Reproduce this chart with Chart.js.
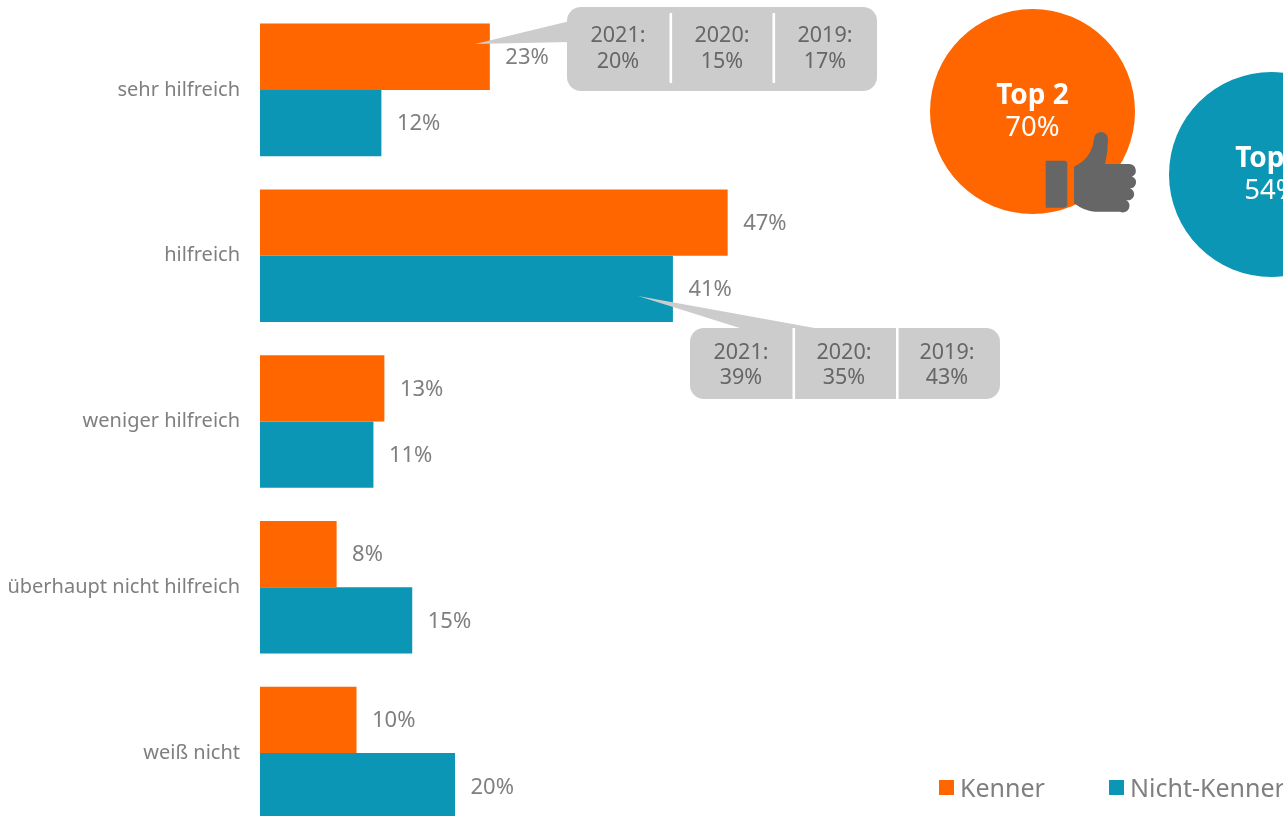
<!DOCTYPE html>
<html lang="de">
<head>
<meta charset="utf-8">
<title>Hilfreich – Kenner / Nicht-Kenner</title>
<style>
  html, body { margin: 0; padding: 0; background: #fff; overflow: hidden; width: 1283px; height: 816px; }
  canvas { display: block; }
</style>
</head>
<body>
<!-- canvas is a bit taller than the window: last bar runs off the bottom like in the original -->
<canvas id="chart" width="1283" height="836"></canvas>
<script src="https://cdn.jsdelivr.net/npm/chart.js@4"></script>
<script>
const categories = ['sehr hilfreich', 'hilfreich', 'weniger hilfreich', 'überhaupt nicht hilfreich', 'weiß nicht'];
const seriesNames = ['Kenner', 'Nicht-Kenner'];
const kenner = [23.1, 47, 12.5, 7.7, 9.7];
const nichtKenner = [12.2, 41.5, 11.4, 15.3, 19.6];
const kennerLabels = ['23%', '47%', '13%', '8%', '10%'];
const nichtKennerLabels = ['12%', '41%', '11%', '15%', '20%'];
const years = ['2021:', '2020:', '2019:'];
const kennerHistory = ['20%', '15%', '17%'];
const nichtKennerHistory = ['39%', '35%', '43%'];
const topTitle = 'Top 2';
const topValues = ['70%', '54%'];

const ORANGE = '#ff6600';
const TEAL = '#0a96b4';
const GREY_TEXT = '#7f7f7f';
const CALLOUT_BG = '#cccccc';
const CALLOUT_TEXT = '#666666';
const FONT = '"Noto Sans", sans-serif';

// ── Value labels next to the bars ───────────────────────────────────────────
const valueLabels = {
  id: 'valueLabels',
  afterDatasetsDraw(chart) {
    const ctx = chart.ctx;
    const texts = [kennerLabels, nichtKennerLabels];
    ctx.save();
    ctx.font = '22px ' + FONT;
    ctx.fillStyle = GREY_TEXT;
    ctx.textAlign = 'left';
    ctx.textBaseline = 'middle';
    texts.forEach((list, d) => {
      chart.getDatasetMeta(d).data.forEach((bar, i) => {
        ctx.fillText(list[i], bar.x + 15.5, bar.y + 1);
      });
    });
    ctx.restore();
  },
};

// ── Callouts with the previous years ────────────────────────────────────────
function drawCallout(ctx, box, tail, values) {
  ctx.fillStyle = CALLOUT_BG;
  ctx.beginPath();
  ctx.moveTo(tail[0][0], tail[0][1]);
  ctx.lineTo(tail[1][0], tail[1][1]);
  ctx.lineTo(tail[2][0], tail[2][1]);
  ctx.closePath();
  ctx.fill();
  ctx.beginPath();
  ctx.roundRect(box.x, box.y, box.w, box.h, 14);
  ctx.fill();

  ctx.fillStyle = '#fff';
  box.dividers.forEach(x => ctx.fillRect(x, box.divTop, 2.6, box.divH));

  ctx.fillStyle = CALLOUT_TEXT;
  ctx.font = '21.5px ' + FONT;
  ctx.textAlign = 'center';
  ctx.textBaseline = 'middle';
  years.forEach((y, i) => {
    ctx.fillText(y, box.centers[i], box.line1);
    ctx.fillText(values[i], box.centers[i], box.line2);
  });
}

// ── Top 2 circles ───────────────────────────────────────────────────────────
function drawCircle(ctx, cx, cy, color, value) {
  ctx.fillStyle = color;
  ctx.beginPath();
  ctx.arc(cx, cy, 102.5, 0, Math.PI * 2);
  ctx.fill();
  ctx.fillStyle = '#fff';
  ctx.textAlign = 'center';
  ctx.textBaseline = 'middle';
  ctx.font = 'bold 28px ' + FONT;
  ctx.fillText(topTitle, cx, cy - 15);
  ctx.font = '27.5px ' + FONT;
  ctx.fillText(value, cx, cy + 17);
}

function drawThumb(ctx) {
  ctx.save();
  ctx.translate(920, 60);
  ctx.scale(1 / 3, 1 / 3);
  ctx.fillStyle = '#666666';
  ctx.beginPath();
  ctx.roundRect(377, 302, 65, 141, [0, 10, 10, 0]);
  ctx.fill();
  const hand = new Path2D(
    'M462 320 Q515 295 522 237 A21 21 0 0 1 564 237 Q564 275 555 312 L628 312 ' +
    'A20 20 0 0 1 636 350 A18 18 0 0 1 630 385 A17 17 0 0 1 618 420 ' +
    'A18 18 0 0 1 600 455 L525 455 Q495 455 462 430 Z'
  );
  ctx.fill(hand);
  ctx.restore();
}

const decorations = {
  id: 'decorations',
  afterDraw(chart) {
    const ctx = chart.ctx;
    ctx.save();
    drawCallout(ctx,
      { x: 567, y: 7, w: 310, h: 84, dividers: [669.5, 772.5], divTop: 13, divH: 70,
        centers: [618, 722, 825], line1: 36, line2: 62 },
      [[475, 44], [570, 21], [570, 42]], kennerHistory);
    drawCallout(ctx,
      { x: 690, y: 328, w: 310, h: 71, dividers: [792.5, 896], divTop: 328, divH: 71,
        centers: [741, 844, 947], line1: 353, line2: 378 },
      [[638, 296], [743, 329], [820, 329]], nichtKennerHistory);
    drawCircle(ctx, 1032.5, 111.5, ORANGE, topValues[0]);
    drawCircle(ctx, 1271.5, 174.5, TEAL, topValues[1]);
    drawThumb(ctx);

    // legend, taken from the datasets
    const datasets = chart.data.datasets;
    const spots = [939, 1109];
    ctx.font = '25px ' + FONT;
    ctx.textAlign = 'left';
    ctx.textBaseline = 'middle';
    datasets.forEach((ds, i) => {
      ctx.fillStyle = ds.backgroundColor;
      ctx.fillRect(spots[i], 780, 15, 15);
      ctx.fillStyle = GREY_TEXT;
      ctx.fillText(ds.label, spots[i] + 21, 789.5);
    });
    ctx.restore();
  },
};

new Chart(document.getElementById('chart'), {
  type: 'bar',
  data: {
    labels: categories,
    datasets: [
      { label: seriesNames[0], data: kenner, backgroundColor: ORANGE },
      { label: seriesNames[1], data: nichtKenner, backgroundColor: TEAL },
    ],
  },
  options: {
    indexAxis: 'y',
    responsive: false,
    animation: false,
    layout: { padding: { top: 7, right: 28, left: 0, bottom: 0 } },
    datasets: { bar: { categoryPercentage: 0.8, barPercentage: 1 } },
    plugins: { legend: { display: false }, tooltip: { enabled: false } },
    scales: {
      x: { display: false, min: 0, max: 100 },
      y: {
        afterFit: scale => {
          scale.width = 260;
          scale.paddingTop = 0;
          scale.paddingBottom = 0;
        },
        grid: { display: false, drawTicks: false },
        border: { display: false },
        ticks: { color: GREY_TEXT, padding: 20, font: { family: FONT, size: 20 } },
      },
    },
  },
  plugins: [valueLabels, decorations],
});
</script>
</body>
</html>
